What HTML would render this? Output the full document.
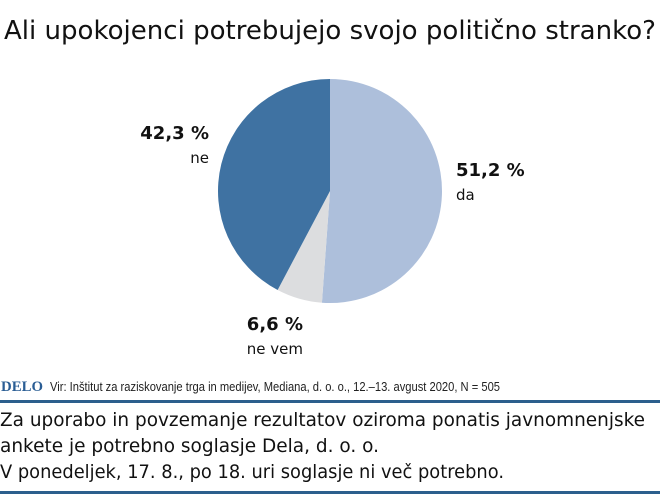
<!DOCTYPE html>
<html><head><meta charset="utf-8"><style>
body{margin:0;width:660px;height:494px;background:#fff;overflow:hidden;font-family:"DejaVu Sans","Liberation Sans",sans-serif;}
</style></head><body>
<svg width="660" height="494">
<text x="4" y="39" font-size="26" fill="#111" font-family="DejaVu Sans, sans-serif" textLength="652" lengthAdjust="spacingAndGlyphs">Ali upokojenci potrebujejo svojo politično stranko?</text>
<g id="pie"></g>
<g font-family="DejaVu Sans, sans-serif" fill="#111">
<text x="209" y="139" font-size="18" font-weight="bold" text-anchor="end">42,3 %</text>
<text x="209" y="163" font-size="15" text-anchor="end">ne</text>
<text x="456" y="176" font-size="18" font-weight="bold">51,2 %</text>
<text x="456" y="200" font-size="15">da</text>
<text x="303" y="330" font-size="18" font-weight="bold" text-anchor="end">6,6 %</text>
<text x="303" y="354" font-size="15" text-anchor="end">ne vem</text>
</g>
<text x="1" y="391" font-size="15" font-weight="bold" fill="#2a5d94" font-family="Liberation Serif, serif" textLength="42" lengthAdjust="spacingAndGlyphs">DELO</text>
<text x="50" y="391" font-size="12.5" fill="#222" font-family="Liberation Sans Narrow, Liberation Sans, sans-serif" textLength="450" lengthAdjust="spacingAndGlyphs">Vir: Inštitut za raziskovanje trga in medijev, Mediana, d. o. o., 12.–13. avgust 2020, N = 505</text>
<rect x="0" y="400" width="660" height="3" fill="#2c5f8d"/>
<g font-size="19" fill="#111" font-family="DejaVu Sans, sans-serif">
<text x="0" y="426" textLength="645" lengthAdjust="spacingAndGlyphs">Za uporabo in povzemanje rezultatov oziroma ponatis javnomnenjske</text>
<text x="0" y="452" textLength="379" lengthAdjust="spacingAndGlyphs">ankete je potrebno soglasje Dela, d. o. o.</text>
<text x="0" y="478" textLength="504" lengthAdjust="spacingAndGlyphs">V ponedeljek, 17. 8., po 18. uri soglasje ni več potrebno.</text>
</g>
<rect x="0" y="491" width="660" height="3" fill="#2c5f8d"/>
</svg>
<script>
const categories = ["da", "ne vem", "ne"];
const values = [51.2, 6.6, 42.3];
const colors = ["#adbfdb", "#dcdddf", "#3f72a2"];
const cx = 330, cy = 191, r = 112;
const g = document.getElementById('pie');
const total = values.reduce((a,b)=>a+b,0);
let a0 = 0;
values.forEach((v,i)=>{
  const a1 = a0 + v/total*2*Math.PI;
  const x0 = cx + r*Math.sin(a0), y0 = cy - r*Math.cos(a0);
  const x1 = cx + r*Math.sin(a1), y1 = cy - r*Math.cos(a1);
  const large = (a1-a0) > Math.PI ? 1 : 0;
  const p = document.createElementNS('http://www.w3.org/2000/svg','path');
  p.setAttribute('d', `M${cx},${cy} L${x0},${y0} A${r},${r} 0 ${large} 1 ${x1},${y1} Z`);
  p.setAttribute('fill', colors[i]);
  
  
  g.appendChild(p);
  a0 = a1;
});
</script>
</body></html>
